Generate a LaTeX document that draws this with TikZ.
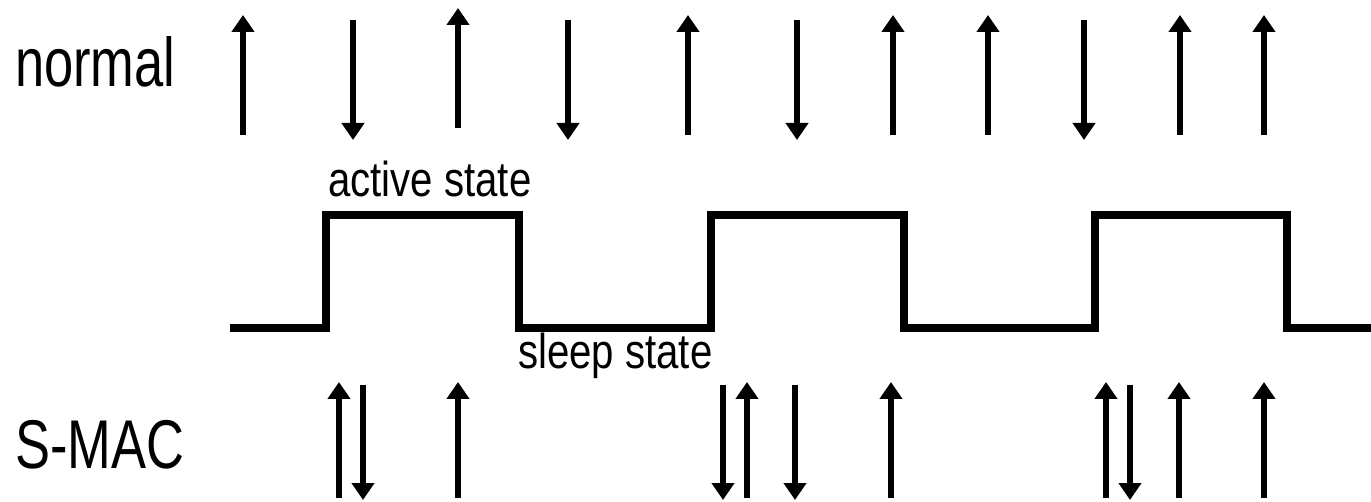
\documentclass[tikz,border=0pt]{standalone}
\usepackage{fontspec}
\usetikzlibrary{arrows.meta}
\newfontfamily\labfontbig[FakeStretch=0.76]{Liberation Sans}
\newfontfamily\labfontsmall[FakeStretch=0.82]{Liberation Sans}
\tikzset{
  sig/.style={line width=6pt, -{Triangle[width=22pt,length=17pt]}},
  wave/.style={line width=7.5pt, line join=miter},
  rowlabel/.style={inner sep=0pt, anchor=base west, font=\labfontbig\fontsize{69}{72}\selectfont},
  statelabel/.style={inner sep=0pt, anchor=base west, font=\labfontsmall\fontsize{49}{52}\selectfont},
}
\begin{document}
\begin{tikzpicture}[x=1pt,y=-1pt]
\useasboundingbox (0,0) rectangle (1371,502);

% row labels
\node[rowlabel] (lnormal) at (15,87) {normal};
\node[rowlabel] (lsmac) at (15,468) {S-MAC};

% normal row: up arrows
\foreach \x/\t/\b [count=\i] in {243/15/135, 458/8/128, 688/15/135, 893/15/135, 988/15/135, 1180/15/135, 1264/15/135}{
  \coordinate (nut\i) at (\x,\t);
  \coordinate (nub\i) at (\x,\b);
  \draw[sig] (nub\i) -- (nut\i);
}
% normal row: down arrows
\foreach \x [count=\i] in {353, 568, 797, 1084}{
  \coordinate (ndt\i) at (\x,20);
  \coordinate (ndb\i) at (\x,140);
  \draw[sig] (ndt\i) -- (ndb\i);
}

% waveform
\draw[wave] (230,328) -- (326,328) -- (326,215) -- (519,215) -- (519,328)
  -- (711,328) -- (711,215) -- (904,215) -- (904,328)
  -- (1095,328) -- (1095,215) -- (1287,215) -- (1287,328) -- (1371,328);

\node[statelabel] (lactive) at (328,197) {active state};
\node[statelabel] (lsleep) at (518,369) {sleep state};

% S-MAC row: up arrows
\foreach \x [count=\i] in {339, 458, 747, 891, 1106, 1179, 1264}{
  \coordinate (sut\i) at (\x,382);
  \coordinate (sub\i) at (\x,498);
  \draw[sig] (sub\i) -- (sut\i);
}
% S-MAC row: down arrows
\foreach \x [count=\i] in {363, 723, 795, 1130}{
  \coordinate (sdt\i) at (\x,385);
  \coordinate (sdb\i) at (\x,500);
  \draw[sig] (sdt\i) -- (sdb\i);
}
\end{tikzpicture}
\end{document}
